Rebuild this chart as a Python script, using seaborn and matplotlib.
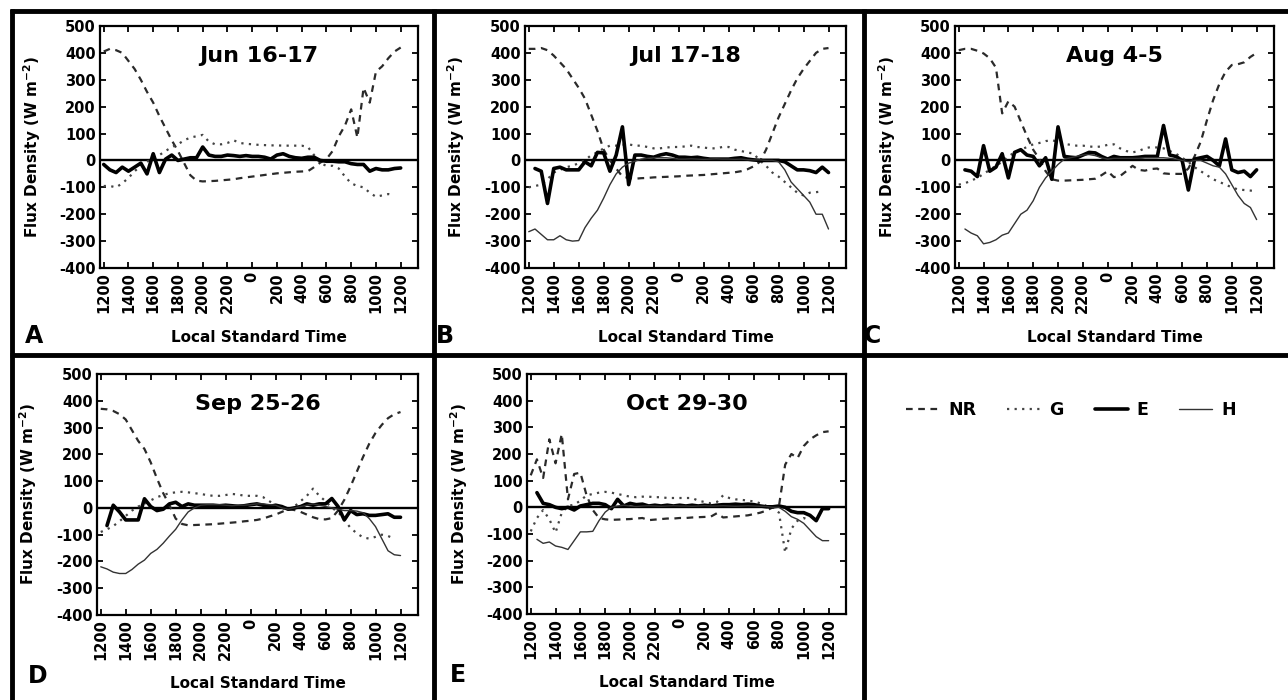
import numpy as np
import pandas as pd
import seaborn as sns
import matplotlib.pyplot as plt
from matplotlib.lines import Line2D

nan = np.nan

# half-hourly time axis, hours after local noon
hours = np.arange(0, 24.5, 0.5)
tick_hours = [0, 2, 4, 6, 8, 10, 12, 14, 16, 18, 20, 22, 24]
tick_labels = ['1200', '1400', '1600', '1800', '2000', '2200', '0',
               '200', '400', '600', '800', '1000', '1200']
y_ticks = [-400, -300, -200, -100, 0, 100, 200, 300, 400, 500]

# Jun 16-17
nr_jun = [405, 415, 410, 400, 370, 340, 300, 255, 215, 165,
          120, 75, 35, -10, -55, -75, -78, -77, -76, -74,
          -72, -70, -66, -63, -60, -57, -54, -51, -48, -46,
          -44, -42, -41, -40, -25, -8, 5, 35, 90, 130,
          190, 85, 270, 215, 330, 350, 380, 405, 420]
g_jun = [-95, -95, -100, -85, -65, -40, -20, -5, 10, 20,
         35, 50, 60, 75, 85, 90, 95, 70, 60, 60,
         65, 75, 65, 62, 60, 58, 57, 56, 56, 55,
         55, 55, 55, 50, 20, -10, -20, -20, -30, -60,
         -85, -95, -100, -120, -135, -130, -125, -130, nan]
e_jun = [-15, -35, -45, -25, -40, -25, -10, -50, 25, -45,
         5, 20, 0, 5, 10, 10, 50, 20, 15, 15,
         20, 18, 15, 18, 15, 15, 12, 5, 20, 25,
         15, 10, 8, 12, 12, 0, -3, -3, -5, -5,
         -12, -15, -15, -40, -30, -35, -35, -30, -28]

# Jul 17-18
nr_jul = [415, 415, 418, 410, 390, 365, 340, 305, 270, 230,
          170, 110, 40, 0, -30, -60, -65, -68, -66, -65,
          -63, -62, -61, -60, -59, -57, -56, -55, -54, -52,
          -50, -48, -46, -44, -40, -33, -22, -5, 40, 100,
          160, 210, 260, 305, 340, 370, 400, 415, 418]
g_jul = [-100, -95, -90, -70, -45, -35, -25, -20, -10, 0,
         20, 30, 45, 55, 55, 58, 60, 55, 55, 50,
         45, 45, 48, 50, 50, 52, 55, 50, 48, 45,
         45, 50, 50, 40, 35, 30, 25, 0, -20, -45,
         -60, -80, -100, -120, -130, -120, -118, -115, nan]
e_jul = [nan, -30, -40, -160, -30, -25, -35, -35, -35, -5,
         -20, 30, 28, -40, 20, 125, -90, 20, 20, 15,
         12, 20, 25, 20, 12, 12, 10, 12, 8, 5,
         5, 5, 5, 8, 10, 5, 2, 0, 0, 0,
         0, -5, -20, -35, -35, -38, -45, -25, -45]
h_jul = [-265, -255, nan, -295, -295, -280, -295, -300, -298, -250,
         -215, -185, -140, -90, -50, -25, -10, -3, 5, 8,
         10, 10, 10, 8, 5, 5, 6, 5, 4, 5,
         6, 5, 5, 4, 5, 3, 2, 2, 0, 0,
         -5, -35, -80, -105, -130, -155, -200, -200, -255]

# Aug 4-5
nr_aug = [410, 415, 415, 408, 398, 380, 345, 175, 220, 200,
          145, 90, 40, 5, -40, -70, -75, -75, -74, -73,
          -72, -70, -68, -55, -40, -62, -58, -40, -20, -35,
          -38, -32, -30, -48, -50, -50, -50, -30, 15, 70,
          150, 225, 285, 330, 355, 358, 365, 385, 400]
g_aug = [-90, -85, -75, -65, -50, -35, -20, -5, 15, 30,
         40, 50, 60, 65, 72, 75, 70, 62, 58, 55,
         55, 52, 50, 52, 58, 60, 45, 35, 30, 35,
         45, 50, 48, 45, 35, 25, 10, -5, -25, -40,
         -55, -70, -80, -90, -100, -108, -110, -112, -115]
e_aug = [nan, -35, -40, -60, 55, -40, -25, 25, -65, 30,
         40, 20, 15, -20, 10, -70, 125, 15, 12, 10,
         20, 30, 28, 15, 5, 15, 10, 10, 10, 12,
         15, 15, 15, 130, 20, 15, 0, -110, 5, 10,
         15, 0, -20, 80, -35, -45, -40, -60, -35]
h_aug = [nan, -255, -270, -280, -310, -305, -295, -278, -270, -235,
         -200, -185, -150, -100, -65, -40, -15, 5, 10, 15,
         20, 22, 18, 10, 5, 8, 8, 8, 8, 8,
         10, 10, 10, 10, 8, 5, 0, -5, 0, 0,
         -10, -20, -25, -50, -90, -130, -160, -175, -220]

# Sep 25-26
nr_sep = [370, 368, 362, 350, 330, 290, 250, 220, 170, 110,
          55, 10, -40, -60, -65, -64, -63, -62, -61, -59,
          -57, -55, -53, -50, -48, -45, -40, -32, -25, -15,
          -5, -8, -15, -25, -35, -42, -43, -38, -10, 30,
          80, 135, 190, 240, 280, 310, 335, 350, 358]
g_sep = [-90, -80, -68, -50, -30, -10, 5, 15, 28, 40,
         48, 55, 58, 60, 58, 55, 52, 48, 45, 45,
         48, 52, 50, 45, 45, 45, 40, 25, 10, 0,
         -10, 5, 25, 45, 72, 45, 25, 0, -15, -45,
         -75, -95, -110, -115, -108, -100, -105, -115, nan]
e_sep = [nan, -66, 10, -15, -45, -45, -45, 34, 5, -10,
         -5, 15, 21, 5, 15, 10, 10, 10, 10, 8,
         10, 8, 6, 8, 12, 15, 10, 5, 10, 5,
         -5, 0, 5, 15, 10, 15, 15, 35, 5, -45,
         -10, -25, -22, -28, -28, -25, -22, -35, -35]
h_sep = [-220, -228, -240, -245, -245, -230, -210, -195, -170, -155,
         -132, -105, -80, -45, -15, 0, 10, 12, 12, 12,
         10, 8, 10, 10, 12, 15, 15, 12, 10, 0,
         -5, 0, 5, 10, 15, 10, 5, 0, -5, -10,
         -10, -12, -18, -40, -70, -115, -160, -175, -178]

# Oct 29-30
nr_oct = [120, 180, 110, 255, 165, 275, 30, 125, 130, 45,
          -10, -40, -45, -47, -46, -45, -44, -42, -40, -48,
          -46, -44, -42, -42, -40, -40, -38, -37, -36, -35,
          -22, -38, -36, -34, -32, -30, -25, -20, -12, 0,
          5, 160, 200, 185, 230, 255, 270, 282, 285]
g_oct = [-90, -40, -10, -45, -95, -20, 5, 10, 25, 45,
         50, 55, 58, 55, 50, 45, 40, 38, 40, 40,
         38, 38, 35, 35, 35, 35, 35, 25, 20, 15,
         20, 45, 35, 30, 28, 25, 22, 15, 5, 0,
         -20, -170, -80, -50, -40, -50, nan, nan, nan]
e_oct = [nan, 55, 15, 10, 0, -5, 0, -10, 5, 10,
         15, 15, 10, -5, 30, 5, 15, 10, 12, 5,
         8, 5, 8, 5, 8, 5, 8, 5, 8, 5,
         8, 10, 10, 12, 10, 12, 10, 5, 2, 2,
         5, 0, -15, -20, -20, -30, -50, -5, -5]
h_oct = [nan, -120, -135, -130, -145, -150, -158, -125, -92, -92,
         -90, -50, -18, 0, 5, 8, 5, 3, 5, 6,
         5, 4, 5, 6, 5, 5, 4, 5, 6, 5,
         5, 6, 5, 4, 5, 6, 5, 4, 3, 0,
         0, -15, -35, -45, -60, -85, -110, -125, -125]

panels = [
    ('A', 'Jun 16-17', {'NR': nr_jun, 'G': g_jun, 'E': e_jun}),
    ('B', 'Jul 17-18', {'NR': nr_jul, 'G': g_jul, 'E': e_jul, 'H': h_jul}),
    ('C', 'Aug 4-5', {'NR': nr_aug, 'G': g_aug, 'E': e_aug, 'H': h_aug}),
    ('D', 'Sep 25-26', {'NR': nr_sep, 'G': g_sep, 'E': e_sep, 'H': h_sep}),
    ('E', 'Oct 29-30', {'NR': nr_oct, 'G': g_oct, 'E': e_oct, 'H': h_oct}),
]

styles = {
    'NR': dict(color='#2a2a2a', linewidth=1.6, linestyle=(0, (3, 2.5))),
    'G': dict(color='#444444', linewidth=1.6, linestyle=(0, (1, 2.4))),
    'E': dict(color='black', linewidth=2.6, linestyle='-'),
    'H': dict(color='#333333', linewidth=1.0, linestyle='-'),
}

sns.set_style('ticks')
plt.rcParams['font.family'] = ['DejaVu Sans']
plt.rcParams['font.weight'] = 'bold'
plt.rcParams['mathtext.default'] = 'bf'
plt.rcParams['axes.unicode_minus'] = False
for key in ['text.color', 'axes.labelcolor', 'xtick.color', 'ytick.color',
            'axes.edgecolor']:
    plt.rcParams[key] = 'black'

W, H = 1288, 700
fig = plt.figure(figsize=(W / 100, H / 100), dpi=100)


def px_rect(left, top, right, bottom):
    return [left / W, 1 - bottom / H, (right - left) / W, (bottom - top) / H]


axes_px = {'A': (100, 26, 418, 268), 'B': (525, 26, 846, 268),
           'C': (955, 26, 1274, 268), 'D': (97, 374, 418, 615),
           'E': (527, 374, 846, 614)}
letter_px = {'A': (25, 343), 'B': (436, 343), 'C': (864, 343),
             'D': (28, 683), 'E': (450, 682)}

for letter, title, series in panels:
    ax = fig.add_axes(px_rect(*axes_px[letter]))
    for name, vals in series.items():
        df = pd.DataFrame({'hour': hours, 'flux': vals})
        sns.lineplot(data=df, x='hour', y='flux', ax=ax, estimator=None,
                     sort=False, **styles[name])
    ax.axhline(0, color='black', linewidth=1.7, zorder=1)
    ax.set_xlim(-0.3, 25.4)
    ax.set_ylim(-400, 500)
    ax.set_xticks(tick_hours)
    ax.set_xticklabels(tick_labels, rotation=90)
    ax.set_yticks(y_ticks)
    ax.set_yticklabels([str(v) for v in y_ticks])
    ax.tick_params(direction='in', length=4, width=1.3, top=True, right=True,
                   labelsize=10.5, pad=3)
    for sp in ax.spines.values():
        sp.set_linewidth(1.6)
    ax.set_xlabel('Local Standard Time', fontsize=11, fontweight='bold')
    ax.set_ylabel('Flux Density (W m$^{-2}$)', fontsize=11, fontweight='bold')
    ax.xaxis.set_label_coords(0.5, -0.255)
    ax.yaxis.set_label_coords(-0.18, 0.5)
    ax.text(0.5, 0.875, title, transform=ax.transAxes, ha='center',
            va='center', fontsize=16, fontweight='bold')
    lx, ly = letter_px[letter]
    fig.text(lx / W, 1 - ly / H, letter, fontsize=17, fontweight='bold',
             ha='left', va='baseline')

# panel frame lines
frame = [((10, 10.5), (1288, 10.5)), ((10, 355), (1288, 355)),
         ((12.5, 9), (12.5, 700)), ((433.5, 9), (433.5, 700)),
         ((863.5, 9), (863.5, 700))]
for (x0, y0), (x1, y1) in frame:
    fig.add_artist(Line2D([x0 / W, x1 / W], [1 - y0 / H, 1 - y1 / H],
                          transform=fig.transFigure, color='black',
                          linewidth=3.5, solid_capstyle='butt'))

handles = [Line2D([], [], **styles[k]) for k in ['NR', 'G', 'E', 'H']]
fig.legend(handles, ['NR', 'G', 'E', 'H'], loc='center',
           bbox_to_anchor=(1071 / W, 1 - 410 / H), ncol=4, frameon=False,
           fontsize=12.5, handlelength=1.9, handletextpad=0.5,
           columnspacing=1.8)

fig.savefig('out.png', dpi=100)
